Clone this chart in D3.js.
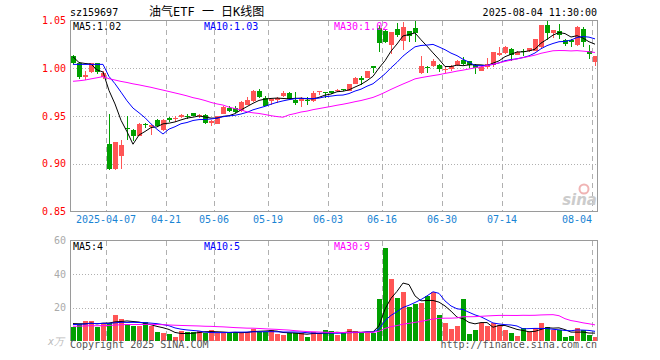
<!DOCTYPE html>
<html>
<head>
<meta charset="utf-8">
<title>油气ETF 日K线图</title>
<script src="https://cdn.jsdelivr.net/npm/d3@7/dist/d3.min.js"></script>
<style>
    body { margin: 0; padding: 0; background: #fff; }
    svg text { font-family: "DejaVu Sans Mono", monospace; font-size: 10px; }
</style>
</head>
<body>
<svg id="chart" width="660" height="360"></svg>
<script>
    // trading days, 2025-03-27 .. 2025-08-04
    var dates = ["03-27","03-28","03-31","04-01","04-02","04-03","04-07","04-08","04-09","04-10",
        "04-11","04-14","04-15","04-16","04-17","04-18","04-21","04-22","04-23","04-24",
        "04-25","04-28","04-29","04-30","05-06","05-07","05-08","05-09","05-12","05-13",
        "05-14","05-15","05-16","05-19","05-20","05-21","05-22","05-23","05-26","05-27",
        "05-28","05-29","05-30","06-03","06-04","06-05","06-06","06-09","06-10","06-11",
        "06-12","06-13","06-16","06-17","06-18","06-19","06-20","06-23","06-24","06-25",
        "06-26","06-27","06-30","07-01","07-02","07-03","07-04","07-07","07-08","07-09",
        "07-10","07-11","07-14","07-15","07-16","07-17","07-18","07-21","07-22","07-23",
        "07-24","07-25","07-28","07-29","07-30","07-31","08-01","08-04"];

    var open = [1.013,1.006,0.991,0.9965,1.005,0.991,0.921,0.894,0.908,0.937,
        0.9357,0.9295,0.9415,0.939,0.946,0.9357,0.948,0.9465,0.9486,0.950,
        0.9531,0.951,0.9513,0.943,0.942,0.9524,0.9586,0.958,0.9548,0.9618,
        0.9652,0.9767,0.9688,0.9656,0.9667,0.9711,0.9746,0.9667,0.9656,0.967,
        0.9656,0.9756,0.9753,0.9764,0.976,0.9778,0.9767,0.9836,0.9899,0.990,
        1.002,1.042,1.039,1.0246,1.0413,1.0288,1.0385,1.042,0.995,1.0012,
        1.002,1.003,0.999,0.999,1.003,1.009,1.0073,1.003,0.9975,1.001,
        1.0038,1.0135,1.016,1.020,1.0142,1.0178,1.0177,1.0183,1.022,1.0454,
        1.0368,1.0385,1.030,1.030,1.024,1.0413,1.0177,1.0066];
    var high = [1.014,1.007,0.9975,1.006,1.006,0.997,0.9526,0.923,0.9246,0.9503,
        0.9367,0.9425,0.943,0.941,0.947,0.947,0.949,0.950,0.952,0.9525,
        0.9535,0.9525,0.952,0.9455,0.950,0.960,0.960,0.960,0.9652,0.9702,
        0.977,0.978,0.9705,0.968,0.970,0.976,0.975,0.9756,0.970,0.970,
        0.9766,0.9757,0.9755,0.9766,0.978,0.9785,0.9835,0.991,0.992,0.997,
        1.002,1.0448,1.041,1.038,1.047,1.048,1.039,1.0506,1.0125,1.002,
        1.0095,1.004,1.001,1.003,1.009,1.0115,1.008,1.004,1.002,1.0107,
        1.0175,1.0219,1.023,1.021,1.0185,1.020,1.0215,1.031,1.0458,1.0496,
        1.040,1.046,1.0305,1.0305,1.044,1.0427,1.024,1.013];
    var low = [1.004,0.989,0.988,0.995,0.994,0.989,0.8933,0.893,0.894,0.9253,
        0.9236,0.929,0.937,0.9297,0.939,0.934,0.944,0.944,0.9475,0.9465,
        0.9495,0.948,0.9415,0.9395,0.9415,0.952,0.954,0.953,0.9538,0.9612,
        0.9645,0.9685,0.960,0.9615,0.9635,0.970,0.967,0.9615,0.9594,0.961,
        0.9645,0.972,0.969,0.9735,0.975,0.9765,0.976,0.983,0.982,0.9895,
        0.995,1.017,1.0265,1.0149,1.033,1.019,1.027,1.028,0.994,0.9946,
        1.001,0.9965,0.9955,0.997,1.002,1.0035,1.000,0.994,0.997,0.9995,
        1.001,1.013,1.0145,1.008,1.0135,1.0125,1.017,1.018,1.0215,1.0298,
        1.0316,1.031,1.023,1.022,1.0235,1.022,1.010,1.002];
    var close = [1.006,0.991,0.993,1.005,0.9965,0.995,0.894,0.9225,0.9198,0.9365,
        0.9295,0.942,0.941,0.9405,0.940,0.9455,0.9455,0.9475,0.951,0.9495,
        0.9503,0.9515,0.9427,0.945,0.9496,0.9594,0.9548,0.9538,0.9642,0.967,
        0.9767,0.9698,0.9607,0.9677,0.969,0.9746,0.9677,0.9635,0.9683,0.9656,
        0.9746,0.9757,0.9752,0.974,0.9776,0.9772,0.983,0.9899,0.9878,0.9969,
        1.0003,1.0264,1.028,1.0378,1.0344,1.0427,1.0333,1.0368,1.002,1.001,
        1.0073,0.9996,0.9993,1.002,1.008,1.0045,1.0038,1.0003,1.001,1.0045,
        1.017,1.016,1.022,1.0135,1.0167,1.0176,1.021,1.0308,1.0454,1.0368,
        1.0396,1.0344,1.0253,1.0274,1.0437,1.0274,1.015,1.0125];
    // volume, 万
    var volume = [8.4,10.4,12,12,8.4,10.4,10.8,15.4,13.2,10,
        8.8,9.2,11.2,9.2,5.2,4.8,4,2.4,6,5.2,
        5.6,6,4.8,6.4,4.8,4.8,4.8,4.8,5.6,5.6,
        7.4,5.6,5.6,6.8,4,3.4,4.8,4.8,4.8,2.4,
        5.6,4.8,6.4,5.8,3.4,4.6,7,5.8,4.8,5,
        4.6,25,55.8,37,25.8,29.4,20.4,22,22.4,26.8,
        29.4,15.4,10.6,7,8.8,25,4,6.4,10.8,8.8,
        11,9.4,6.4,5,2.8,7.8,5.6,7.6,10.6,8.2,
        6.4,6.4,2.4,3.2,8,6.6,3.6,2.2];

    // sessions before the window, estimated from where the MA lines start
    var closeBefore = [0.975,0.970,0.968,0.962,0.958,0.960,0.965,0.963,0.970,0.972,
        0.975,0.980,0.978,0.985,0.988,0.990,0.992,0.995,0.998,1.006,
        0.991,0.993,1.005,0.9965,0.995,1.021,0.998,1.008,1.027];
    var volumeBefore = [8,9,7,10,8,7,9,8,6,9,
        8,10,7,9,8,9,7,10,8,9,
        9,10,8,10,9,11,12,10,10.6];

    var tickDates = ["04-07","04-21","05-06","05-19","06-03","06-16","06-30","07-14","08-04"];
    var tickText = ["2025-04-07","04-21","05-06","05-19","06-03","06-16","06-30","07-14","08-04"];
    var priceTicks = [1.05, 1.00, 0.95, 0.90, 0.85];
    var volTicks = [60, 40, 20];
    var maDays = [5, 10, 30];
    var maColors = ["#000000", "#0000ff", "#ff00ff"];
    var priceMaText = ["MA5:1.02", "MA10:1.03", "MA30:1.02"];
    var volMaText = ["MA5:4", "MA10:5", "MA30:9"];

    var up = "#ff5555", down = "#00a000", frame = "#9a9a9a", grid = "#b0b0b0";

    var svg = d3.select("#chart");

    var x = d3.scaleBand().domain(dates).range([70, 598]).paddingInner(1 / 6).paddingOuter(1 / 12);
    var yP = d3.scaleLinear().domain([0.85, 1.05]).range([211.5, 20.5]);
    var yV = d3.scaleLinear().domain([0, 60]).range([341, 240.5]);
    var bw = x.bandwidth();
    var cx = function (d) { return x(d) + bw / 2; };

    function movingAvg(before, vals, n) {
        var all = before.concat(vals), off = before.length;
        return vals.map(function (v, i) {
            return d3.mean(all.slice(off + i - n + 1, off + i + 1));
        });
    }

    var rows = dates.map(function (d, i) {
        return { date: d, o: open[i], h: high[i], l: low[i], c: close[i], v: volume[i], up: close[i] >= open[i] };
    });

    // header
    svg.append("text").attr("x", 70).attr("y", 16).attr("fill", "#000").text("sz159697");
    svg.append("text").attr("x", 149).attr("y", 16)
        .style("font-family", "'DejaVu Sans Mono', 'Noto Sans CJK SC', monospace").style("font-size", "12px")
        .attr("fill", "#000").text("油气ETF 一 日K线图");
    svg.append("text").attr("x", 597).attr("y", 16).attr("text-anchor", "end").attr("fill", "#000")
        .text("2025-08-04 11:30:00");

    // gridlines
    var gP = svg.append("g").attr("shape-rendering", "crispEdges");
    gP.selectAll("line.h").data([1.00, 0.95, 0.90]).enter().append("line")
        .attr("x1", 70).attr("x2", 597)
        .attr("y1", function (d) { return Math.round(yP(d)) + 0.5; })
        .attr("y2", function (d) { return Math.round(yP(d)) + 0.5; })
        .attr("stroke", grid).attr("stroke-dasharray", "1,2");
    gP.selectAll("line.hv").data([40, 20]).enter().append("line")
        .attr("x1", 70).attr("x2", 597)
        .attr("y1", function (d) { return Math.round(yV(d)) + 0.5; })
        .attr("y2", function (d) { return Math.round(yV(d)) + 0.5; })
        .attr("stroke", grid).attr("stroke-dasharray", "1,2");
    [[20.5, 211.5], [240.5, 341]].forEach(function (r) {
        gP.selectAll(null).data(tickDates).enter().append("line")
            .attr("x1", function (d) { return Math.floor(x(d)) + 0.5; })
            .attr("x2", function (d) { return Math.floor(x(d)) + 0.5; })
            .attr("y1", r[0]).attr("y2", r[1])
            .attr("stroke", grid).attr("stroke-dasharray", "5,4");
    });

    // candles
    var gc = svg.append("g").attr("shape-rendering", "crispEdges");
    gc.selectAll("line.wick").data(rows).enter().append("line")
        .attr("x1", function (d) { return Math.floor(cx(d.date)) + 0.5; })
        .attr("x2", function (d) { return Math.floor(cx(d.date)) + 0.5; })
        .attr("y1", function (d) { return yP(d.h); })
        .attr("y2", function (d) { return yP(d.l); })
        .attr("stroke", function (d) { return d.up ? up : down; });
    gc.selectAll("rect.body").data(rows).enter().append("rect")
        .attr("x", function (d) { return Math.floor(cx(d.date)) - 2; })
        .attr("width", 5)
        .attr("y", function (d) { return yP(Math.max(d.o, d.c)); })
        .attr("height", function (d) { return Math.max(1, Math.abs(yP(d.o) - yP(d.c))); })
        .attr("fill", function (d) { return d.up ? up : down; });

    // volume bars
    gc.selectAll("rect.vol").data(rows).enter().append("rect")
        .attr("x", function (d) { return Math.floor(cx(d.date)) - 2; })
        .attr("width", 5)
        .attr("y", function (d) { return yV(d.v); })
        .attr("height", function (d) { return yV(0) - yV(d.v); })
        .attr("fill", function (d) { return d.up ? up : down; });

    // moving averages
    maDays.forEach(function (n, k) {
        var mp = movingAvg(closeBefore, close, n);
        var mv = movingAvg(volumeBefore, volume, n);
        svg.append("path").datum(mp)
            .attr("d", d3.line().x(function (d, i) { return cx(dates[i]); }).y(function (d) { return yP(d); }))
            .attr("fill", "none").attr("stroke", maColors[k]).attr("stroke-width", 1);
        svg.append("path").datum(mv)
            .attr("d", d3.line().x(function (d, i) { return cx(dates[i]); }).y(function (d) { return yV(d); }))
            .attr("fill", "none").attr("stroke", maColors[k]).attr("stroke-width", 1);
    });

    // frames
    svg.append("rect").attr("x", 70.5).attr("y", 20.5).attr("width", 527).attr("height", 191)
        .attr("fill", "none").attr("stroke", frame).attr("shape-rendering", "crispEdges");
    svg.append("path").attr("d", "M70.5,341V240.5H597.5V341")
        .attr("fill", "none").attr("stroke", frame).attr("shape-rendering", "crispEdges");

    // axes
    var axP = svg.append("g").attr("transform", "translate(66,0)")
        .call(d3.axisLeft(yP).tickValues(priceTicks).tickSize(0).tickPadding(0).tickFormat(d3.format(".2f")));
    axP.select(".domain").remove();
    axP.selectAll("text").attr("fill", "#ff0000").style("font-family", "'DejaVu Sans Mono', monospace").style("font-size", "10px");

    var axV = svg.append("g").attr("transform", "translate(66,0)")
        .call(d3.axisLeft(yV).tickValues(volTicks).tickSize(0).tickPadding(0));
    axV.select(".domain").remove();
    axV.selectAll("text").attr("fill", "#aaaaaa").style("font-family", "'DejaVu Sans Mono', monospace").style("font-size", "10px");
    svg.append("text").attr("x", 64).attr("y", 345).attr("text-anchor", "end").attr("fill", "#bbbbbb")
        .style("font-style", "italic").text("x万");

    var axD = svg.append("g").attr("transform", "translate(0,216)")
        .call(d3.axisBottom(x).tickValues(tickDates).tickSize(0).tickPadding(0)
            .tickFormat(function (d, i) { return tickText[i]; }));
    axD.select(".domain").remove();
    axD.selectAll(".tick").attr("transform", function (d) { return "translate(" + Math.floor(x(d)) + ",0)"; });
    axD.selectAll("text").attr("fill", "#1a84d4").attr("dy", "0.71em")
        .style("font-family", "'DejaVu Sans Mono', monospace").style("font-size", "10px")
        .attr("text-anchor", function (d, i) { return i === tickDates.length - 1 ? "end" : "middle"; });

    // MA legends
    var legX = [73, 204, 334];
    priceMaText.forEach(function (t, k) {
        svg.append("text").attr("x", legX[k]).attr("y", 30).attr("fill", maColors[k]).text(t);
    });
    volMaText.forEach(function (t, k) {
        svg.append("text").attr("x", legX[k]).attr("y", 250).attr("fill", maColors[k]).text(t);
    });

    // watermark
    svg.append("circle").attr("cx", 584).attr("cy", 189).attr("r", 4.5)
        .attr("fill", "none").attr("stroke", "#f0b4b4").attr("stroke-width", 2);
    svg.append("text").attr("x", 597).attr("y", 205).attr("text-anchor", "end")
        .style("font-family", "'DejaVu Sans', sans-serif").style("font-size", "15px")
        .style("font-style", "italic").style("font-weight", "bold").attr("fill", "#cccccc").text("sina");

    // footer
    svg.append("text").attr("x", 70).attr("y", 348).attr("fill", "#555").text("Copyright 2025 SINA.COM");
    svg.append("text").attr("x", 597).attr("y", 348).attr("text-anchor", "end").attr("fill", "#555")
        .text("http://finance.sina.com.cn");
</script>
</body>
</html>
